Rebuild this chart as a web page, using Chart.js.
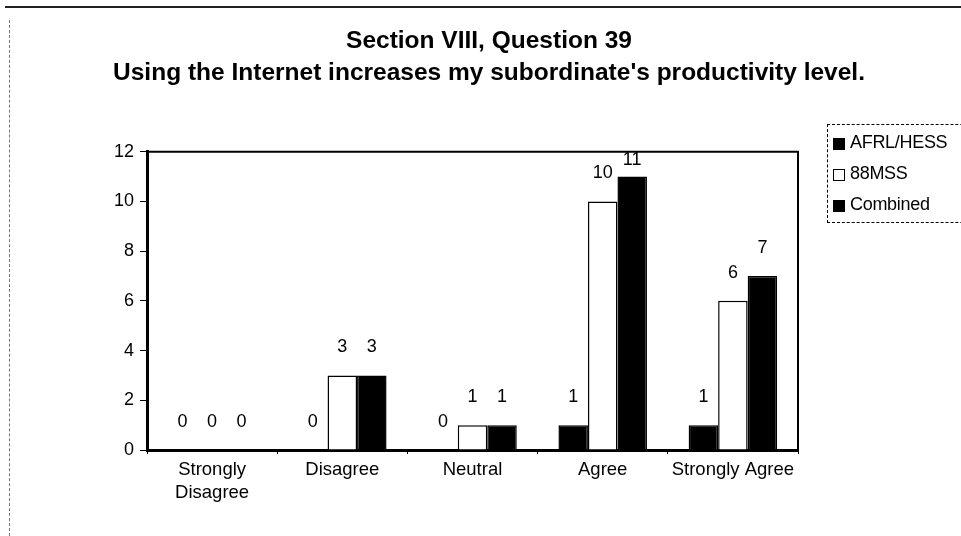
<!DOCTYPE html>
<html>
<head>
<meta charset="utf-8">
<script src="https://cdn.jsdelivr.net/npm/chart.js@4"></script>
<style>
  html, body { margin: 0; padding: 0; background: #fff; }
  #wrap { position: relative; width: 961px; height: 536px; overflow: hidden; }
  #frameTop { position: absolute; left: 5px; top: 6px; width: 956px; height: 0; border-top: 2px solid #222; }
  #frameLeft { position: absolute; left: 9px; top: 20px; width: 0; height: 516px; border-left: 1px dashed #777; }
  #legend { position: absolute; left: 827px; top: 124px; width: 160px; height: 97px;
            border-left: 1px dashed #000; border-bottom: 1px dashed #000; border-top: 1px dashed #000;
            font-family: "Liberation Sans", Arial, sans-serif; font-size: 18px; color: #000; letter-spacing: -0.3px; }
  .item { position: absolute; left: 5px; height: 22px; line-height: 22px; white-space: nowrap; }
  .sw { display: inline-block; width: 12px; height: 12px; border: 1px solid #000; vertical-align: -2px; margin-right: 5px; box-sizing: border-box; }
</style>
</head>
<body>
<div id="wrap">
  <canvas id="c" width="961" height="536"></canvas>
  <div id="frameTop"></div>
  <div id="frameLeft"></div>
  <div id="legend"></div>
</div>
<script>
const titleLines = ["Section VIII, Question 39", "Using the Internet increases my subordinate's productivity level."];
const categories = [["Strongly", "Disagree"], "Disagree", "Neutral", "Agree", "Strongly Agree"];
const seriesNames = ["AFRL/HESS", "88MSS", "Combined"];
const afrlHess = [0, 0, 0, 1, 1];
const mss88 = [0, 3, 1, 10, 6];
const combined = [0, 3, 1, 11, 7];
const yTicks = [0, 2, 4, 6, 8, 10, 12];

const fills = ["#000000", "#ffffff", "#000000"];
const FONT = "'Liberation Sans', Arial, sans-serif";

const seriesValues = [afrlHess, mss88, combined];

// HTML legend built from the series names
const legendEl = document.getElementById('legend');
seriesNames.forEach((name, i) => {
  const d = document.createElement('div');
  d.className = 'item';
  d.style.top = (6 + i * 31) + 'px';
  d.innerHTML = '<span class="sw" style="background:' + fills[i] + '"></span>' + name;
  legendEl.appendChild(d);
});

const valueLabels = {
  id: 'valueLabels',
  afterDatasetsDraw(chart) {
    const ctx = chart.ctx;
    const area = chart.chartArea;
    ctx.save();
    ctx.font = "18px " + FONT;
    ctx.fillStyle = "#000";
    ctx.textAlign = "center";
    ctx.textBaseline = "middle";
    chart.data.datasets.forEach((ds, di) => {
      const meta = chart.getDatasetMeta(di);
      meta.data.forEach((bar, i) => {
        const y = Math.max(bar.y - 28, area.top + 8);
        ctx.fillText(String(ds.data[i]), bar.x, y);
      });
    });
    ctx.restore();
  }
};

const plotFrame = {
  id: 'plotFrame',
  afterDraw(chart) {
    const a = chart.chartArea;
    const ctx = chart.ctx;
    ctx.save();
    ctx.strokeStyle = "#000";
    ctx.lineWidth = 2;
    ctx.beginPath();
    ctx.moveTo(a.left, a.top);
    ctx.lineTo(a.right, a.top);
    ctx.lineTo(a.right, a.bottom);
    ctx.stroke();
    ctx.restore();
  }
};

new Chart(document.getElementById('c'), {
  type: 'bar',
  data: {
    labels: categories,
    datasets: seriesNames.map((name, i) => ({
      label: name,
      data: seriesValues[i],
      backgroundColor: fills[i],
      borderColor: "#000",
      borderWidth: 1.5,
      borderSkipped: 'bottom',
      categoryPercentage: 0.68,
      barPercentage: 1.0,
      yAxisID: 'y'
    }))
  },
  options: {
    responsive: false,
    animation: false,
    devicePixelRatio: 1,
    layout: { padding: { left: 17, right: 0, top: 0, bottom: 31 } },
    plugins: {
      legend: { display: false },
      tooltip: { enabled: false },
      title: {
        display: true,
        text: titleLines,
        color: "#000",
        font: { family: FONT, size: 24.5, weight: 'bold', lineHeight: 1.3 },
        padding: { top: 25, bottom: 63 }
      }
    },
    scales: {
      x: {
        offset: true,
        border: { display: true, color: "#000", width: 3 },
        grid: { display: true, drawOnChartArea: false, offset: true, tickLength: 4, color: "#000", lineWidth: 1 },
        ticks: { color: "#000", font: { family: FONT, size: 18.5, lineHeight: 1.25 }, padding: 4, maxRotation: 0, autoSkip: false },
        afterFit(scale) { scale.height = 55; }
      },
      y: {
        position: 'left',
        min: 0,
        max: 12,
        afterBuildTicks(scale) { scale.ticks = yTicks.map(v => ({ value: v })); },
        border: { display: true, color: "#000", width: 3 },
        grid: { display: true, drawOnChartArea: false, tickLength: 7, color: "#000", lineWidth: 1 },
        ticks: { color: "#000", font: { family: FONT, size: 18 }, padding: 6 },
        afterFit(scale) { scale.width = 130; }
      },
      yRight: {
        type: 'linear',
        position: 'right',
        min: 0,
        max: 12,
        border: { display: false },
        grid: { display: false },
        ticks: { display: false },
        afterFit(scale) { scale.width = 163; }
      }
    }
  },
  plugins: [valueLabels, plotFrame]
});
</script>
</body>
</html>
